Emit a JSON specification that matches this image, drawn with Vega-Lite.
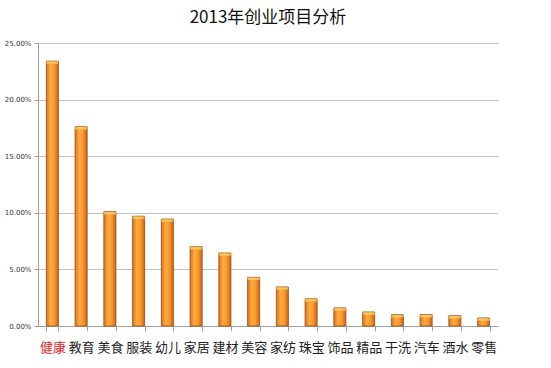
{
  "$schema": "https://vega.github.io/schema/vega-lite/v6.json",
  "width": 460,
  "height": 283,
  "autosize": "none",
  "padding": {"left": 38, "top": 43, "right": 53, "bottom": 42},
  "background": "white",
  "title": {
    "text": "2013年创业项目分析",
    "fontSize": 17,
    "font": "Noto Sans CJK SC",
    "fontWeight": "normal",
    "color": "#111111",
    "anchor": "middle",
    "offset": 12
  },
  "data": {
    "values": [
      {"item": "健康", "share": 0.234},
      {"item": "教育", "share": 0.176},
      {"item": "美食", "share": 0.101},
      {"item": "服装", "share": 0.097},
      {"item": "幼儿", "share": 0.0945},
      {"item": "家居", "share": 0.070},
      {"item": "建材", "share": 0.0645},
      {"item": "美容", "share": 0.043},
      {"item": "家纺", "share": 0.0345},
      {"item": "珠宝", "share": 0.024},
      {"item": "饰品", "share": 0.016},
      {"item": "精品", "share": 0.0124},
      {"item": "干洗", "share": 0.010},
      {"item": "汽车", "share": 0.010},
      {"item": "酒水", "share": 0.0091},
      {"item": "零售", "share": 0.0071}
    ]
  },
  "encoding": {
    "x": {
      "field": "item",
      "type": "nominal",
      "sort": null,
      "scale": {"paddingInner": 0.58, "paddingOuter": 0.29},
      "axis": {
        "title": null,
        "labelAngle": 0,
        "labelFont": "Noto Sans CJK SC",
        "labelFontSize": 13,
        "labelColor": {"expr": "datum.value === '健康' ? '#e8202a' : '#222222'"},
        "labelPadding": 10,
        "tickBand": "extent",
        "tickSize": 5,
        "tickColor": "#a0a0a0",
        "domainColor": "#a0a0a0",
        "grid": false
      }
    },
    "y": {
      "field": "share",
      "type": "quantitative",
      "scale": {"domain": [0, 0.25], "nice": false},
      "axis": {
        "title": null,
        "format": ".2%",
        "values": [0, 0.05, 0.1, 0.15, 0.2, 0.25],
        "labelFont": "DejaVu Sans",
        "labelFontSize": 7,
        "labelColor": "#333333",
        "labelPadding": 3,
        "tickSize": 4,
        "tickColor": "#a0a0a0",
        "domainColor": "#a0a0a0",
        "gridColor": "#c4c4c4",
        "gridWidth": 1
      }
    }
  },
  "layer": [
    {
      "mark": {
        "type": "bar",
        "color": {
          "gradient": "linear",
          "x1": 0, "x2": 1, "y1": 0, "y2": 0,
          "stops": [
            {"offset": 0, "color": "#d8731e"},
            {"offset": 0.35, "color": "#ffab3e"},
            {"offset": 0.65, "color": "#fb9a2e"},
            {"offset": 1, "color": "#c8641a"}
          ]
        },
        "stroke": "#9a4a14",
        "strokeWidth": 0.8
      }
    },
    {
      "mark": {
        "type": "tick",
        "color": "#ffd868",
        "thickness": 2.5,
        "band": 0.36,
        "yOffset": 1.5
      }
    }
  ],
  "config": {
    "view": {"stroke": null}
  }
}
